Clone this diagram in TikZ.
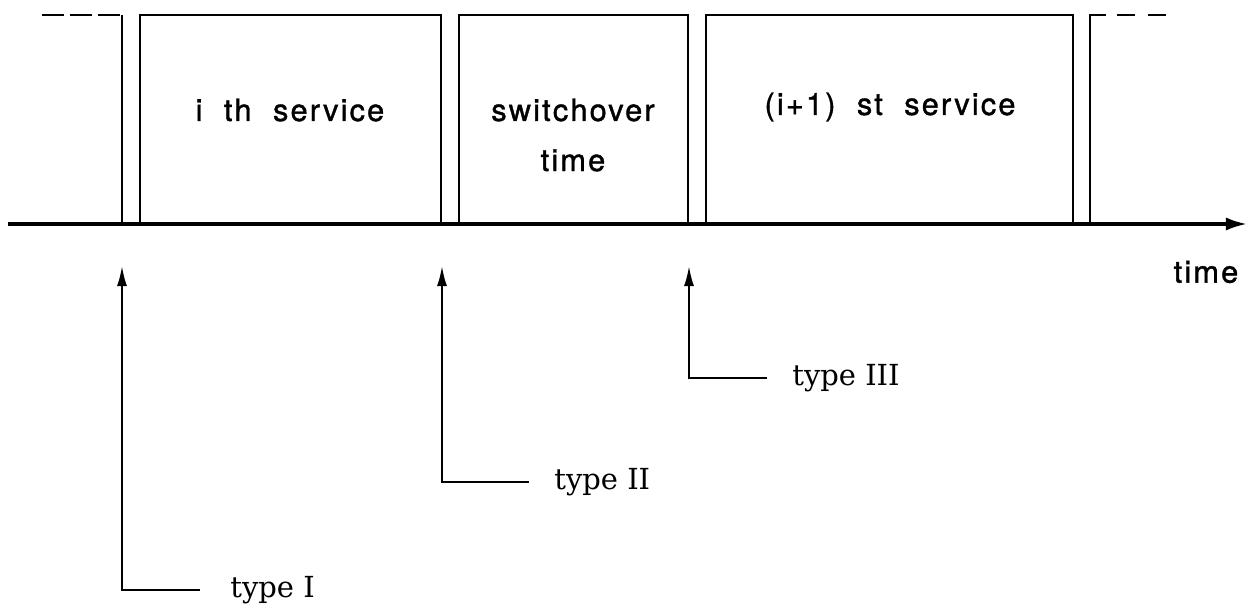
\documentclass[tikz,border=0pt]{standalone}
\usepackage{fontspec}
\setmainfont{DejaVu Serif}
\newfontfamily\boxfont[LetterSpace=7,FakeBold=1.2]{TeX Gyre Heros}
\usetikzlibrary{arrows.meta}

\begin{document}
\begin{tikzpicture}[x=0.02cm,y=-0.02cm,
    pulse/.style={line width=1.2pt},
    txt/.style={font=\boxfont\fontsize{17.5}{28.5}\selectfont,align=center},
    lbl/.style={font=\fontsize{16.5}{20}\selectfont,anchor=west,inner sep=0pt},
    ptr/.style={line width=1.2pt,-{Latex[length=11.4pt,width=5.7pt]}}]

  \useasboundingbox (0,0) rectangle (1249,607);

  % time axis
  \coordinate (t0) at (8,224);
  \coordinate (t1) at (1247,224);
  \draw[line width=1.8pt,-{Latex[length=12pt,width=7.5pt]}] (t0) -- (t1);
  \node[txt] (tlab) at (1206,272) {time};

  % periods on the axis, open at the bottom
  \draw[pulse,dash pattern=on 12.5pt off 3.4pt] (42,15) -- (122,15);
  \draw[pulse] (122,15) -- (122,224);
  \foreach \a/\b in {140/441,459/688,706/1073}
    \draw[pulse] (\a,224) |- (\b,15) -- (\b,224);
  \draw[pulse] (1090,224) -- (1090,15) -- (1106,15);
  \draw[pulse,dash pattern=on 10.2pt off 7.4pt] (1117,15) -- (1166,15);

  \node[txt] (srv) at (290,110) {i\ \ th\ \ service};
  \node[txt] (swo) at (573,135) {switchover\\time};
  \node[txt] (nxt) at (890,107) {(i+1)\ \ st\ \ service};

  % arrival instants
  \coordinate (a1) at (122,266);
  \coordinate (a2) at (442,266);
  \coordinate (a3) at (689,266);
  \node[lbl] (ty1) at (230,590) {type I};
  \node[lbl] (ty2) at (554,482) {type II};
  \node[lbl] (ty3) at (792,378) {type III};
  \draw[ptr] (ty1.west) ++(-30,0) -| (a1);
  \draw[ptr] (ty2.west) ++(-25,0) -| (a2);
  \draw[ptr] (ty3.west) ++(-25,0) -| (a3);
\end{tikzpicture}
\end{document}
